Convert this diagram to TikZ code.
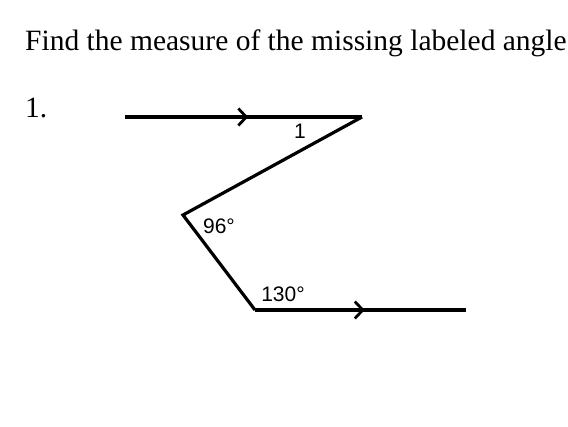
\documentclass[tikz,border=0pt]{standalone}
\usepackage{fontspec}
\setmainfont{Liberation Serif}
\newfontfamily\labelfont{Liberation Sans}
\usetikzlibrary{arrows.meta,decorations.markings}
\tikzstyle{seg} = [draw, line width=3.2pt, line join=miter]
\tikzstyle{ray} = [seg, postaction={decorate}, decoration={markings, mark=at position 0.52 with {\arrow[line width=2.8pt]{Straight Barb[length=8pt,width=17pt]}}}]
\tikzstyle{heading} = [anchor=base west, inner sep=0pt, font=\fontsize{29.5}{34}\selectfont]
\tikzstyle{angle} = [inner sep=0pt, font=\labelfont\fontsize{21}{24}\selectfont]

\begin{document}
\begin{tikzpicture}[x=1pt, y=-1pt]
        \useasboundingbox (0,0) rectangle (568,427);
        \node[heading] (title) at (25,51) {Find the measure of the missing labeled angle};
        \node[heading] (num) at (25,118) {1.};
        % vertices of the zigzag
        \coordinate (start) at (125,117);
        \coordinate (top) at (362,117);
        \coordinate (bend) at (183,215);
        \coordinate (low) at (255,310);
        \coordinate (end) at (466,310);
        \path[ray] (start) -- (top);
        \path[seg] (top) -- (bend) -- (low);
        \path[ray] (low) -- (end);
        \node[angle] (one) at (300,131) {1};
        \node[angle] (ninetysix) at (219,226) {96°};
        \node[angle] (onethirty) at (283,294) {130°};
\end{tikzpicture}
\end{document}
